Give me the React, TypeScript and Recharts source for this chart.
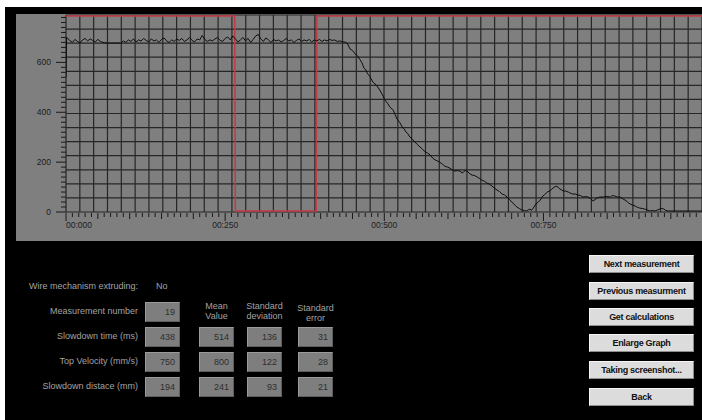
import React from "react";
import { LineChart, Line, XAxis, YAxis, ReferenceLine } from "recharts";

// Axis ranges of the velocity graph
const X_MAX = 999;
const Y_MAX = 790;
const GRID_COLS = 46;
const GRID_ROWS = 14;

// Tick values and their labels
const xTickValues = [0, 250, 500, 750];
const xTickLabels = ["00:000", "00:250", "00:500", "00:750"];
const yTickValues = [0, 200, 400, 600];

// Velocity trace (time in ms, velocity in mm/s)
const timeMs = [
  0, 1, 6, 10, 14, 18, 22, 26, 30, 34, 38, 42, 46, 50, 54, 58, 62, 70, 78, 86,
  90, 94, 98, 102, 106, 110, 114, 118, 122, 126, 130, 134, 138, 142, 146, 150,
  154, 158, 162, 166, 170, 174, 178, 182, 186, 190, 194, 198, 202, 206, 210,
  214, 218, 222, 226, 230, 234, 238, 242, 246, 250, 254, 258, 262, 266, 270,
  274, 278, 282, 286, 290, 294, 298, 302, 306, 310, 314, 318, 322, 326, 330,
  334, 338, 342, 346, 350, 354, 358, 362, 366, 370, 374, 378, 382, 386, 390,
  394, 398, 402, 406, 410, 414, 418, 422, 426, 430, 435,
  438, 442, 446, 450, 454, 458, 462, 465, 468, 471, 473, 477, 482, 487, 493,
  497, 501, 505, 509, 514, 517, 520, 524, 528, 531, 534, 537, 540, 544, 548,
  552, 556, 560, 564, 568, 572, 576, 580, 584, 587, 591, 595, 599, 603, 607,
  611, 615, 619, 622, 624, 627, 630, 634, 638, 642, 646, 650, 653, 657, 661,
  665, 669, 673, 677, 681, 685, 689, 693, 697, 702, 705, 708, 712, 716, 720,
  723, 726, 729, 731, 734, 738, 742, 745, 749, 752, 756, 760, 763, 767, 771,
  774, 776, 779, 781, 785, 789, 792, 796, 800, 804, 808, 812, 816, 820, 824,
  828, 831, 834, 838, 844, 850, 855, 858, 862, 866, 870, 874, 878, 882, 886,
  890, 894, 898, 901, 905, 909, 913, 917, 921, 925, 929, 933, 936, 939, 942,
  946, 955, 964, 980, 999,
];
const velocity = [
  540, 700, 688, 680, 692, 684, 678, 690, 696, 686, 694, 688, 682, 692, 684,
  680, 678, 677, 678, 677, 686, 680, 690, 684, 694, 682, 690, 686, 696, 688,
  682, 694, 686, 690, 680, 692, 698, 686, 680, 690, 684, 694, 688, 696, 684,
  690, 700, 688, 682, 694, 690, 708, 692, 684, 690, 686, 694, 700, 688, 684,
  696, 702, 690, 706, 694, 682, 690, 700, 686, 696, 680, 692, 706, 712, 694,
  684, 698, 690, 680, 692, 686, 690, 682, 688, 696, 686, 690, 680, 688, 694,
  684, 690, 686, 692, 682, 690, 686, 692, 684, 690, 686, 692, 688, 690, 684,
  686, 682,
  682, 676, 654, 648, 634, 626, 610, 598, 577, 570, 557, 545, 521, 510, 489,
  470, 449, 436, 420, 409, 390, 373, 360, 341, 334, 321, 314, 301, 292, 281,
  270, 261, 252, 241, 236, 229, 216, 209, 204, 200, 192, 184, 180, 176, 168,
  164, 166, 164, 156, 160, 166, 164, 154, 148, 146, 140, 134, 128, 124, 116,
  112, 104, 96, 88, 82, 72, 68, 60, 48, 36, 28, 20, 14, 8, 6,
  4, 8, 12, 6, 16, 32, 40, 48, 64, 70, 80, 84, 92, 100, 104,
  96, 92, 88, 84, 84, 80, 76, 72, 72, 68, 66, 60, 62, 60, 54,
  44, 50, 56, 60, 60, 62, 60, 66, 64, 60, 60, 54, 48, 40, 32,
  28, 24, 18, 16, 14, 12, 8, 4, 6, 4, 8, 12, 14, 12, 6,
  4, 4, 4, 4, 4,
];

// Gate signal drawn in red (high / low)
const gateTime = [0, 265, 266, 393, 394, 999];
const gateLevel = [786, 786, 4, 4, 786, 786];

// Measurement table
const rowLabels = [
  "Slowdown time (ms)",
  "Top Velocity (mm/s)",
  "Slowdown distace (mm)",
];
const measurementNumber = 19;
const currentValues = [438, 750, 194];
const meanValues = [514, 800, 241];
const stdDeviations = [136, 122, 93];
const stdErrors = [31, 28, 21];

const buttonLabels = [
  "Next measurement",
  "Previous measurment",
  "Get calculations",
  "Enlarge Graph",
  "Taking screenshot...",
  "Back",
];

const traceData = timeMs.map((t, i) => ({ t, v: velocity[i] }));
const gateData = gateTime.map((t, i) => ({ t, v: gateLevel[i] }));

const xMinorTicks = Array.from({ length: 100 }, (_, i) => i * 10);
const yMinorTicks = Array.from({ length: 40 }, (_, i) => i * 20);
const gridX = Array.from({ length: GRID_COLS + 1 }, (_, i) => (i * X_MAX) / GRID_COLS);
const gridY = Array.from({ length: GRID_ROWS + 1 }, (_, i) => (i * Y_MAX) / GRID_ROWS);

const AXIS_FONT = "'Liberation Sans', Arial, sans-serif";

const XTick = (props: any) => {
  const { x, y, payload } = props;
  const v = payload.value;
  const idx = xTickValues.indexOf(v);
  const len = idx >= 0 ? 8 : v % 50 === 0 ? 6 : 4;
  return (
    <g>
      <line x1={x} x2={x} y1={y + 1} y2={y + 1 + len} stroke="#1a1a1a" strokeWidth={1} />
      {idx >= 0 && (
        <text
          x={x}
          y={y + 16}
          textAnchor={v === 0 ? "start" : "middle"}
          fontFamily={AXIS_FONT}
          fontSize={8.5}
          fill="#1e1e1e"
        >
          {xTickLabels[idx]}
        </text>
      )}
    </g>
  );
};

const YTick = (props: any) => {
  const { x, y, payload } = props;
  const v = payload.value;
  const major = yTickValues.includes(v);
  const len = major ? 10 : 5;
  return (
    <g>
      <line x1={x - len} x2={x} y1={y} y2={y} stroke="#1a1a1a" strokeWidth={1} />
      {major && (
        <text x={x - 15} y={y + 3} textAnchor="end" fontFamily={AXIS_FONT} fontSize={8.5} fill="#1e1e1e">
          {v}
        </text>
      )}
    </g>
  );
};

const labelStyle: React.CSSProperties = {
  position: "absolute",
  fontFamily: AXIS_FONT,
  fontSize: 9,
  color: "#a3a3a3",
  whiteSpace: "nowrap",
};

const ValueBox = ({ left, top, value }: { left: number; top: number; value: number }) => (
  <div
    style={{
      position: "absolute",
      left,
      top,
      width: 35,
      height: 20,
      boxSizing: "border-box",
      background: "#7e7e7e",
      borderTop: "1px solid #9a9a9a",
      borderLeft: "1px solid #9a9a9a",
      borderBottom: "1px solid #5e5e5e",
      borderRight: "1px solid #5e5e5e",
      fontFamily: AXIS_FONT,
      fontSize: 9,
      color: "#2e2e2e",
      textAlign: "right",
      paddingRight: 4,
      lineHeight: "18px",
    }}
  >
    {value}
  </div>
);

const ROW_TOPS = [327, 352, 377];
const COL_LEFTS = [145, 199, 247, 298];
const BUTTON_TOPS = [255, 282, 308, 334, 361, 388];

export default function App() {
  return (
    <div style={{ position: "absolute", left: 0, top: 0, width: 702, height: 420, background: "#ffffff", overflow: "hidden" }}>
      <div style={{ position: "absolute", left: 5, top: 7, width: 697, height: 413, background: "#000000" }} />
      <div style={{ position: "absolute", left: 16, top: 14, width: 686, height: 227, background: "#7f7f7f" }} />

      <div style={{ position: "absolute", left: 0, top: 0 }}>
        <LineChart width={702} height={240} margin={{ top: 15, right: 0, bottom: 0, left: 0 }}>
          <XAxis
            dataKey="t"
            type="number"
            domain={[0, X_MAX]}
            ticks={xMinorTicks}
            interval={0}
            height={28}
            axisLine={false}
            tickLine={false}
            tickSize={0}
            tickMargin={0}
            tick={<XTick />}
            allowDataOverflow
          />
          <YAxis
            dataKey="v"
            type="number"
            domain={[0, Y_MAX]}
            ticks={yMinorTicks}
            interval={0}
            width={66}
            axisLine={false}
            tickLine={false}
            tickSize={0}
            tickMargin={0}
            tick={<YTick />}
            allowDataOverflow
          />
          {gridX.map((gx) => (
            <ReferenceLine key={`gx${gx}`} x={gx} stroke="#262626" strokeWidth={1.2} ifOverflow="visible" />
          ))}
          {gridY.map((gy) => (
            <ReferenceLine key={`gy${gy}`} y={gy} stroke="#262626" strokeWidth={1.2} ifOverflow="visible" />
          ))}
          <Line
            data={gateData}
            dataKey="v"
            type="linear"
            stroke="#c23a44"
            strokeWidth={1.5}
            dot={false}
            isAnimationActive={false}
          />
          <Line
            data={traceData}
            dataKey="v"
            type="linear"
            stroke="#0d0d0d"
            strokeWidth={1}
            dot={false}
            isAnimationActive={false}
          />
        </LineChart>
      </div>

      {/* measurement panel */}
      <div style={{ ...labelStyle, right: 702 - 138, top: 281 }}>Wire mechanism extruding:</div>
      <div style={{ ...labelStyle, left: 156, top: 281 }}>No</div>

      <div style={{ ...labelStyle, right: 702 - 138, top: 306 }}>Measurement number</div>
      <ValueBox left={COL_LEFTS[0]} top={302} value={measurementNumber} />

      <div style={{ ...labelStyle, left: 199, width: 35, top: 301, textAlign: "center", lineHeight: "10px" }}>
        Mean
        <br />
        Value
      </div>
      <div style={{ ...labelStyle, left: 242, width: 45, top: 301, textAlign: "center", lineHeight: "10px" }}>
        Standard
        <br />
        deviation
      </div>
      <div style={{ ...labelStyle, left: 293, width: 45, top: 303, textAlign: "center", lineHeight: "10px" }}>
        Standard
        <br />
        error
      </div>

      {rowLabels.map((label, i) => (
        <React.Fragment key={label}>
          <div style={{ ...labelStyle, right: 702 - 138, top: ROW_TOPS[i] + 4 }}>{label}</div>
          <ValueBox left={COL_LEFTS[0]} top={ROW_TOPS[i]} value={currentValues[i]} />
          <ValueBox left={COL_LEFTS[1]} top={ROW_TOPS[i]} value={meanValues[i]} />
          <ValueBox left={COL_LEFTS[2]} top={ROW_TOPS[i]} value={stdDeviations[i]} />
          <ValueBox left={COL_LEFTS[3]} top={ROW_TOPS[i]} value={stdErrors[i]} />
        </React.Fragment>
      ))}

      {buttonLabels.map((label, i) => (
        <div
          key={label}
          style={{
            position: "absolute",
            left: 589,
            top: BUTTON_TOPS[i],
            width: 105,
            height: 18,
            boxSizing: "border-box",
            background: "#dcdcdc",
            borderTop: "1px solid #f5f5f5",
            borderLeft: "1px solid #f5f5f5",
            borderBottom: "1px solid #8c8c8c",
            borderRight: "1px solid #8c8c8c",
            fontFamily: AXIS_FONT,
            fontWeight: "bold",
            fontSize: 9,
            letterSpacing: -0.3,
            color: "#111111",
            textAlign: "center",
            lineHeight: "16px",
          }}
        >
          {label}
        </div>
      ))}
    </div>
  );
}
